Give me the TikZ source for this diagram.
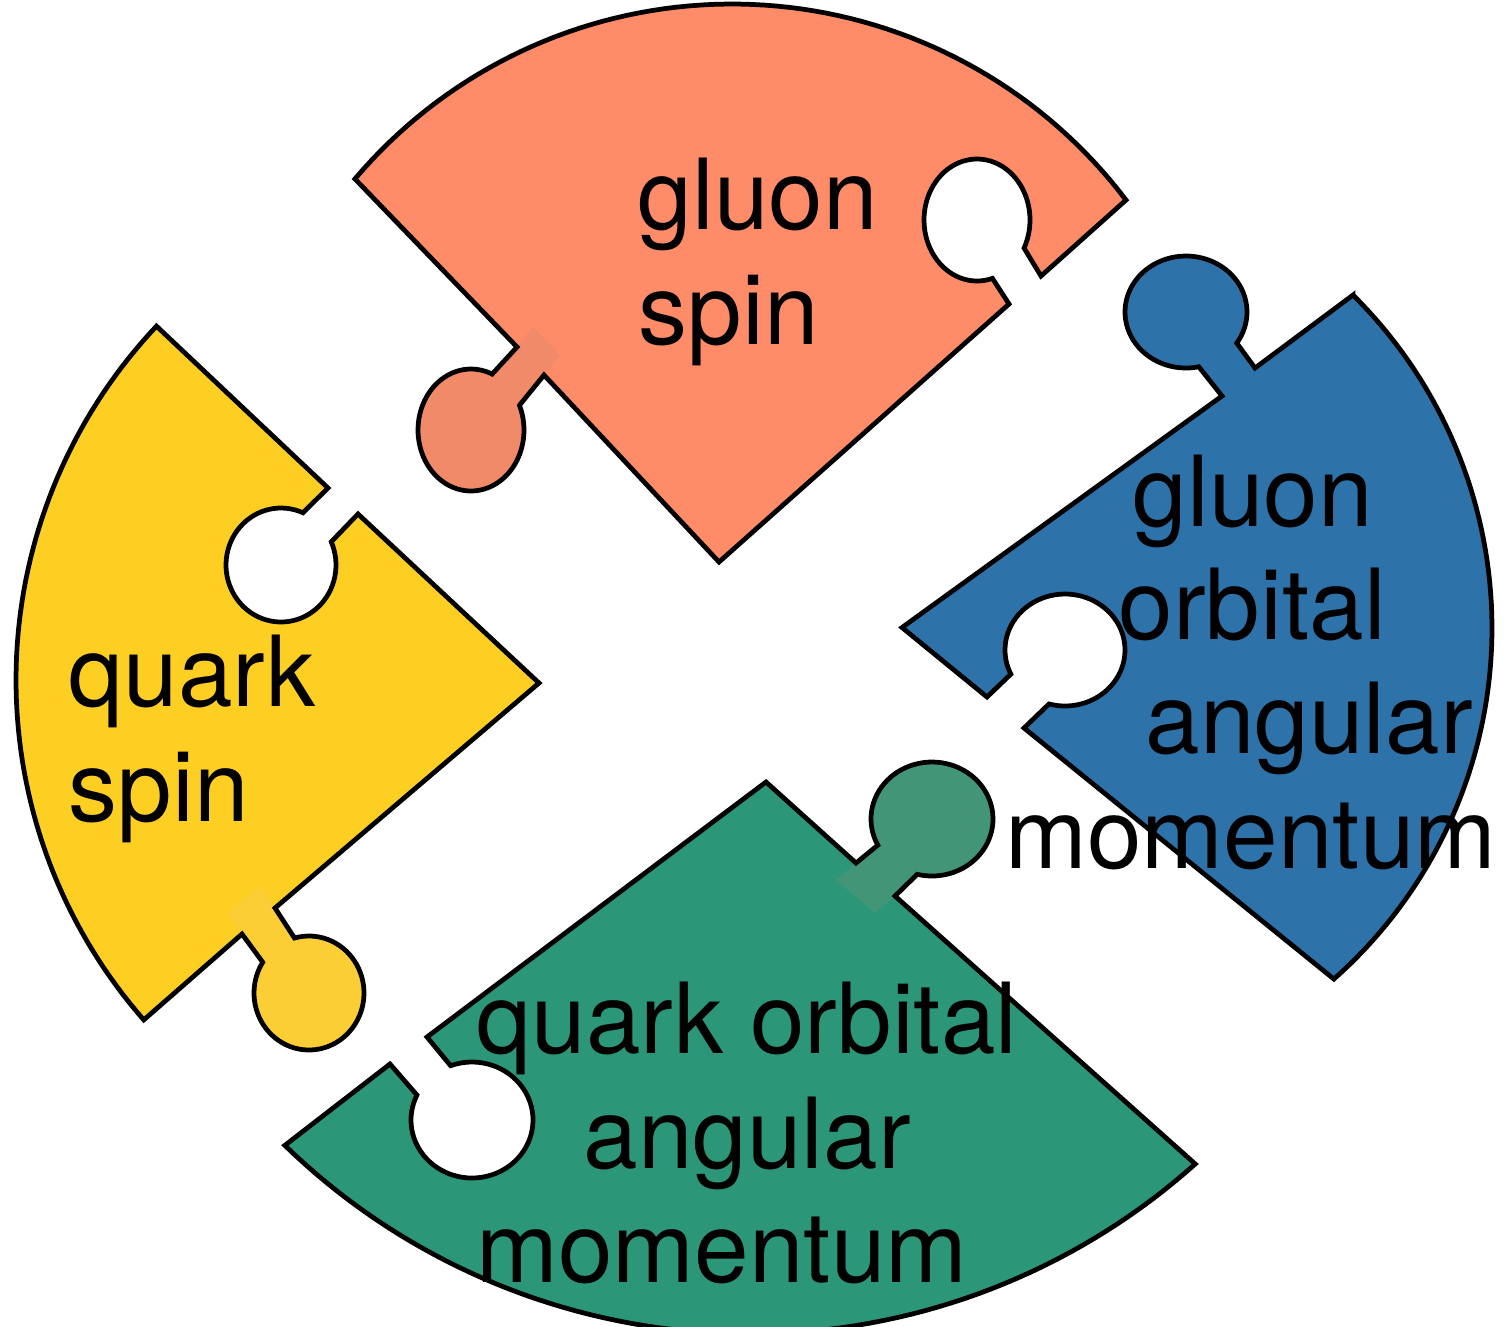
\documentclass[tikz,border=0pt]{standalone}
\usepackage{fontspec}
\setmainfont{TeX Gyre Heros}
\definecolor{salmonA}{RGB}{255,140,105}
\definecolor{salmonK}{RGB}{240,138,104}
\definecolor{yellowA}{RGB}{254,207,35}
\definecolor{yellowK}{RGB}{250,206,52}
\definecolor{blueA}{RGB}{46,114,170}
\definecolor{greenA}{RGB}{43,150,120}
\definecolor{greenK}{RGB}{66,150,119}
\begin{document}
\begin{tikzpicture}[x=0.01cm,y=-0.01cm,
  outline/.style={draw=black,line width=1.35pt,line join=miter},
  lbl/.style={anchor=base west,inner sep=0pt,font=\fontsize{27.9pt}{33pt}\selectfont},
  sm/.style={samples=72,variable=\t}]
\useasboundingbox (0,0) rectangle (1512,1326);
\clip (0,0) rectangle (1512,1326);

% ---------- gluon spin (salmon) ----------
\path[save path=\pGS] ({732+494*cos(220.24)},{498+494*sin(220.24)})
  -- plot[sm,domain=220.24:322.9] ({732+494*cos(\t)},{498+494*sin(\t)})
  -- (1041,276)
  -- plot[sm,domain=27.4:-286.9] ({977+53*cos(\t)},{220+61*sin(\t)})
  -- (1009,304) -- (719,562) -- (544,375)
  -- plot[sm,domain=-23.9:293.5] ({471+53*cos(\t)},{430+61*sin(\t)})
  -- (517,347) -- cycle;
\fill[salmonA,use path=\pGS];
\fill[salmonK] (560,355) -- (544,375) -- (519.4,405.3) -- (492.1,374) -- (517,347) -- (533,327) -- cycle;
\fill[salmonK] (471,430) ellipse[x radius=0.53cm,y radius=0.61cm];
\path[outline,use path=\pGS];

% ---------- quark spin (yellow) ----------
\path[save path=\pQS] ({532+516*cos(223.3)},{680+516*sin(223.3)})
  -- (328,488)
  -- plot[sm,domain=-66.5:-384] ({281+55*cos(\t)},{565+57*sin(\t)})
  -- (358,514) -- (539,683) -- (275,908)
  -- plot[sm,domain=-105.3:212.7] ({309+55*cos(\t)},{993+57*sin(\t)})
  -- (242,934)
  -- plot[sm,domain=138.8:223.3] ({532+516*cos(\t)},{680+516*sin(\t)})
  -- cycle;
\fill[yellowA,use path=\pQS];
\fill[yellowK] (261,886) -- (275,908) -- (294.5,938) -- (262.7,962.2) -- (242,934) -- (228,912) -- cycle;
\fill[yellowK] (309,993) ellipse[x radius=0.55cm,y radius=0.57cm];
\path[outline,use path=\pQS];

% ---------- gluon orbital angular momentum (blue) ----------
\path[save path=\pGO] ({1023.4+468.6*cos(-45.3)},{628.1+468.6*sin(-45.3)})
  -- (1255,368)
  -- plot[sm,domain=33.7:-282.1] ({1186+61*cos(\t)},{312+56*sin(\t)})
  -- (1222,396) -- (902,627.5) -- (987,697)
  -- plot[sm,domain=154.5:465.5] ({1065+60*cos(\t)},{650+56*sin(\t)})
  -- (1024,728)
  -- plot[sm,domain=48.5:-45.3] ({1023.4+468.6*cos(\t)},{628.1+468.6*sin(\t)})
  -- cycle;
\fill[blueA,use path=\pGO];
\path[outline,use path=\pGO];

% ---------- quark orbital angular momentum (green) ----------
\path[save path=\pQO] (766,782) -- (856,863)
  -- plot[sm,domain=152.7:464] ({932+61*cos(\t)},{819+57*sin(\t)})
  -- (895,896)
  -- plot[sm,domain=48.2:134.14] ({750+668*cos(\t)},{666+668*sin(\t)})
  -- (390,1064)
  -- plot[sm,domain=205.5:-110.5] ({472+61*cos(\t)},{1120+58*sin(\t)})
  -- (427,1037) -- cycle;
\fill[greenA,use path=\pQO];
\fill[greenK] (836,880) -- (856,863) -- (877.8,845.1) -- (917.2,874.3) -- (895,896) -- (875,913) -- cycle;
\fill[greenK] (932,819) ellipse[x radius=0.61cm,y radius=0.57cm];
\path[outline,use path=\pQO];

% ---------- labels ----------
\node[lbl] (gs1) at (637,229) {gluon};
\node[lbl] (gs2) at (638,344) {spin};
\node[lbl] (qs1) at (68,706) {quark};
\node[lbl] (qs2) at (68,821) {spin};
\node[lbl] (go1) at (1132,526) {gluon};
\node[lbl] (go2) at (1118,639) {orbital};
\node[lbl] (go3) at (1145,753) {angular};
\node[lbl] (go4) at (1005,868) {momentum};
\node[lbl] (qo1) at (476,1053) {quark orbital};
\node[lbl] (qo2) at (583,1168) {angular};
\node[lbl] (qo3) at (476,1282) {momentum};
\end{tikzpicture}
\end{document}
